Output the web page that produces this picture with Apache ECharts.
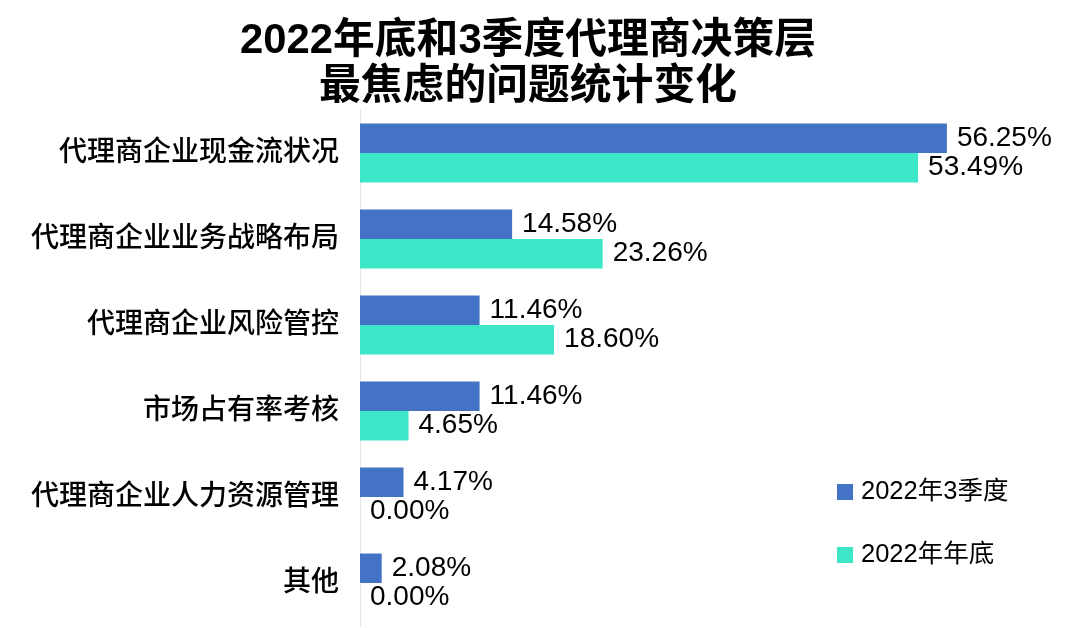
<!DOCTYPE html>
<html>
<head>
<meta charset="utf-8">
<script src="https://cdn.jsdelivr.net/npm/echarts@6/dist/echarts.min.js"></script>
<style>
html,body{margin:0;padding:0;background:#fff;}
#chart{width:1080px;height:628px;}
</style>
</head>
<body>
<div id="chart"></div>
<script>
const titleText = '2022年底和3季度代理商决策层\n最焦虑的问题统计变化';
const categories = ['代理商企业现金流状况','代理商企业业务战略布局','代理商企业风险管控','市场占有率考核','代理商企业人力资源管理','其他'];
const seriesNames = ['2022年3季度','2022年年底'];
const q3Values = [56.25, 14.58, 11.46, 11.46, 4.17, 2.08];
const yearEndValues = [53.49, 23.26, 18.60, 4.65, 0.00, 0.00];

const FONT = '"Liberation Sans", Arial, "Noto Sans CJK SC", sans-serif';
const chart = echarts.init(document.getElementById('chart'));
const labelCfg = {
  show: true, position: 'right', distance: 10,
  color: '#000', fontSize: 28, fontFamily: FONT,
  formatter: p => p.value.toFixed(2) + '%'
};
chart.setOption({
  animation: false,
  backgroundColor: '#fff',
  graphic: [{
    type: 'text', left: 528 - 300, top: 18,
    style: {
      text: titleText, width: 600, align: 'center', textAlign: 'center',
      x: 300, fontSize: 41.8, fontWeight: 'bold', lineHeight: 46,
      fontFamily: FONT, fill: '#000'
    }
  }],
  legend: {
    orient: 'vertical', left: 832, top: 472,
    itemWidth: 16, itemHeight: 16, itemGap: 33,
    icon: 'rect',
    textStyle: { fontSize: 25.5, color: '#000', fontFamily: FONT, lineHeight: 30, padding: [0,0,0,3] },
    data: seriesNames
  },
  grid: { left: 360, right: 94, top: 110, bottom: 2, containLabel: false },
  xAxis: { type: 'value', min: 0, max: 60, show: false },
  yAxis: {
    type: 'category', data: categories, inverse: true,
    axisLine: { show: true, lineStyle: { color: '#e6e6e6', width: 1 } },
    axisTick: { show: false },
    axisLabel: { color: '#000', fontSize: 28, margin: 21, fontFamily: FONT, fontWeight: 500 }
  },
  series: [
    { name: seriesNames[0], type: 'bar', data: q3Values, barWidth: 29.5, barGap: '0%',
      itemStyle: { color: '#4472C4' }, label: labelCfg },
    { name: seriesNames[1], type: 'bar', data: yearEndValues, barWidth: 29.5, barGap: '0%',
      itemStyle: { color: '#3EE6C8' }, label: labelCfg }
  ]
});
</script>
</body>
</html>
